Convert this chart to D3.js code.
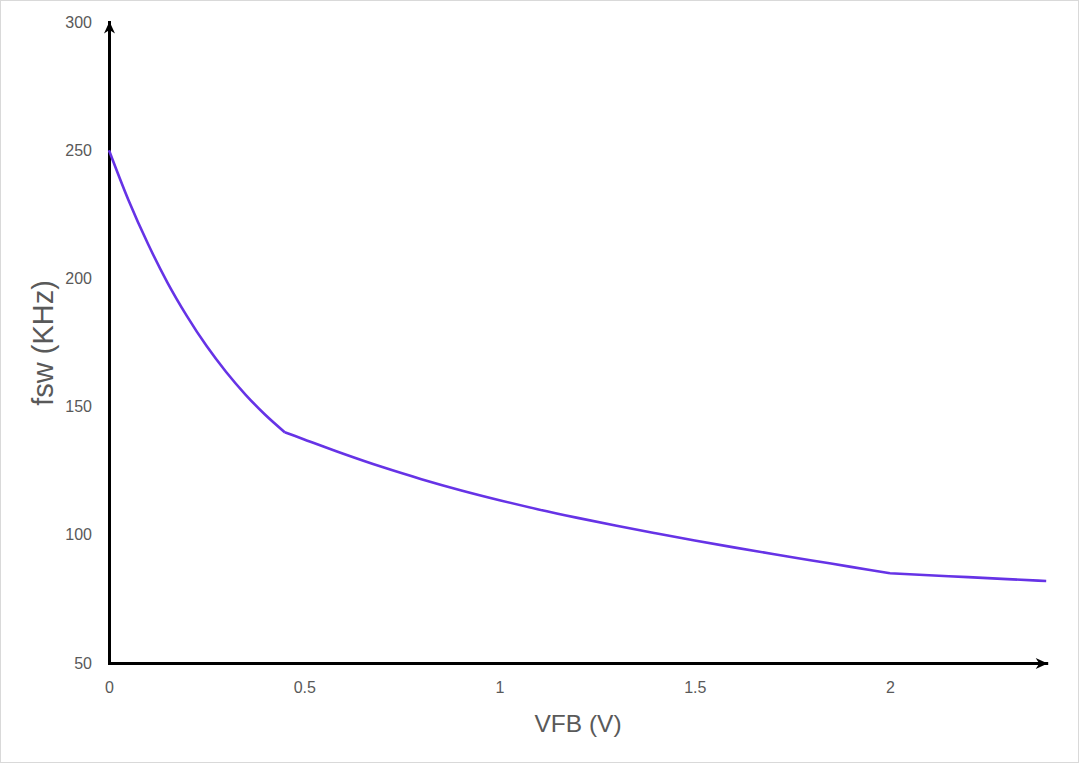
<!DOCTYPE html>
<html>
<head>
<meta charset="utf-8">
<script src="https://cdn.jsdelivr.net/npm/d3@7"></script>
<style>
  html, body { margin: 0; padding: 0; background: #ffffff; }
  svg { display: block; }
</style>
</head>
<body>
<svg id="chart" width="1080" height="764"></svg>
<script>
// ---- data ----
const vfb = [0, 0.05, 0.1, 0.15, 0.2, 0.25, 0.3, 0.35, 0.4, 0.45,
             0.5, 0.6, 0.7, 0.8, 0.9, 1.0, 1.1, 1.2, 1.3, 1.4, 1.5, 1.6, 1.7, 1.8, 1.9, 2.0,
             2.1, 2.2, 2.3, 2.4];
const fsw = [250, 230.5, 213.4, 198.3, 185.2, 173.6, 163.5, 154.6, 146.8, 140,
             137.2, 131.6, 126.4, 121.7, 117.4, 113.5, 109.9, 106.6, 103.5, 100.6, 97.8, 95.1, 92.5, 90.0, 87.5, 85,
             84.2, 83.5, 82.7, 82];
const kinks = [0.45, 2.0];
const xTicks = [0, 0.5, 1, 1.5, 2];
const yTicks = [50, 100, 150, 200, 250, 300];
const xLabel = "VFB (V)";
const yLabel = "fsw (KHz)";

const svg = d3.select("#chart");

// outer border
svg.append("rect")
  .attr("x", 0.5).attr("y", 0.5)
  .attr("width", 1078).attr("height", 762)
  .attr("fill", "#ffffff").attr("stroke", "#d9d9d9").attr("stroke-width", 1);

const x = d3.scaleLinear().domain([0, 2.4]).range([109, 1046.2]);
const y = d3.scaleLinear().domain([50, 300]).range([663, 22]);

// arrow marker
const defs = svg.append("defs");
defs.append("marker")
  .attr("id", "arrow")
  .attr("viewBox", "-12 -6 13 12")
  .attr("refX", 0).attr("refY", 0)
  .attr("markerWidth", 13).attr("markerHeight", 12)
  .attr("markerUnits", "userSpaceOnUse")
  .attr("orient", "auto")
  .append("path")
  .attr("d", "M1,0 L-11,-5.5 L-7.5,0 L-11,5.5 Z")
  .attr("fill", "#000");

const tickFont = "'Liberation Sans', Arial, sans-serif";

// y axis
const gy = svg.append("g")
  .attr("transform", `translate(${x(0)},0)`)
  .call(d3.axisLeft(y).tickValues(yTicks).tickSize(0).tickSizeOuter(0).tickPadding(17)
        .tickFormat(d => String(d)));
gy.select(".domain")
  .attr("stroke", "#000").attr("stroke-width", 3)
  .attr("stroke-linecap", "square")
  .attr("marker-end", "url(#arrow)");
gy.selectAll("text")
  .attr("fill", "#595959").attr("font-size", 16).attr("font-family", tickFont);

// x axis
const gx = svg.append("g")
  .attr("transform", `translate(0,${y(50)})`)
  .call(d3.axisBottom(x).tickValues(xTicks).tickSize(0).tickSizeOuter(0).tickPadding(19)
        .tickFormat(d => String(d)));
gx.select(".domain")
  .attr("stroke", "#000").attr("stroke-width", 3)
  .attr("stroke-linecap", "square")
  .attr("marker-end", "url(#arrow)");
gx.selectAll("text")
  .attr("fill", "#595959").attr("font-size", 16).attr("font-family", tickFont);

// curve, drawn as smooth pieces split at the kinks
const pts = vfb.map((v, i) => [v, fsw[i]]);
const pieces = [];
let cur = [];
pts.forEach(p => {
  cur.push(p);
  if (kinks.includes(p[0])) { pieces.push(cur); cur = [p]; }
});
if (cur.length > 1) pieces.push(cur);

const line = d3.line().x(d => x(d[0])).y(d => y(d[1])).curve(d3.curveMonotoneX);
const pathD = pieces.map(pc => line(pc)).join("");
svg.append("path")
  .attr("d", pathD)
  .attr("fill", "none")
  .attr("stroke", "#6633e6")
  .attr("stroke-width", 2.6)
  .attr("stroke-linejoin", "round");

// axis titles
svg.append("text")
  .attr("x", 578).attr("y", 723)
  .attr("text-anchor", "middle").attr("dominant-baseline", "central")
  .attr("font-family", tickFont).attr("font-size", 24.5)
  .attr("fill", "#595959")
  .text(xLabel);

svg.append("text")
  .attr("transform", "translate(43,343) rotate(-90)")
  .attr("text-anchor", "middle").attr("dominant-baseline", "central")
  .attr("font-family", tickFont).attr("font-size", 29)
  .attr("fill", "#595959")
  .text(yLabel);
</script>
</body>
</html>
